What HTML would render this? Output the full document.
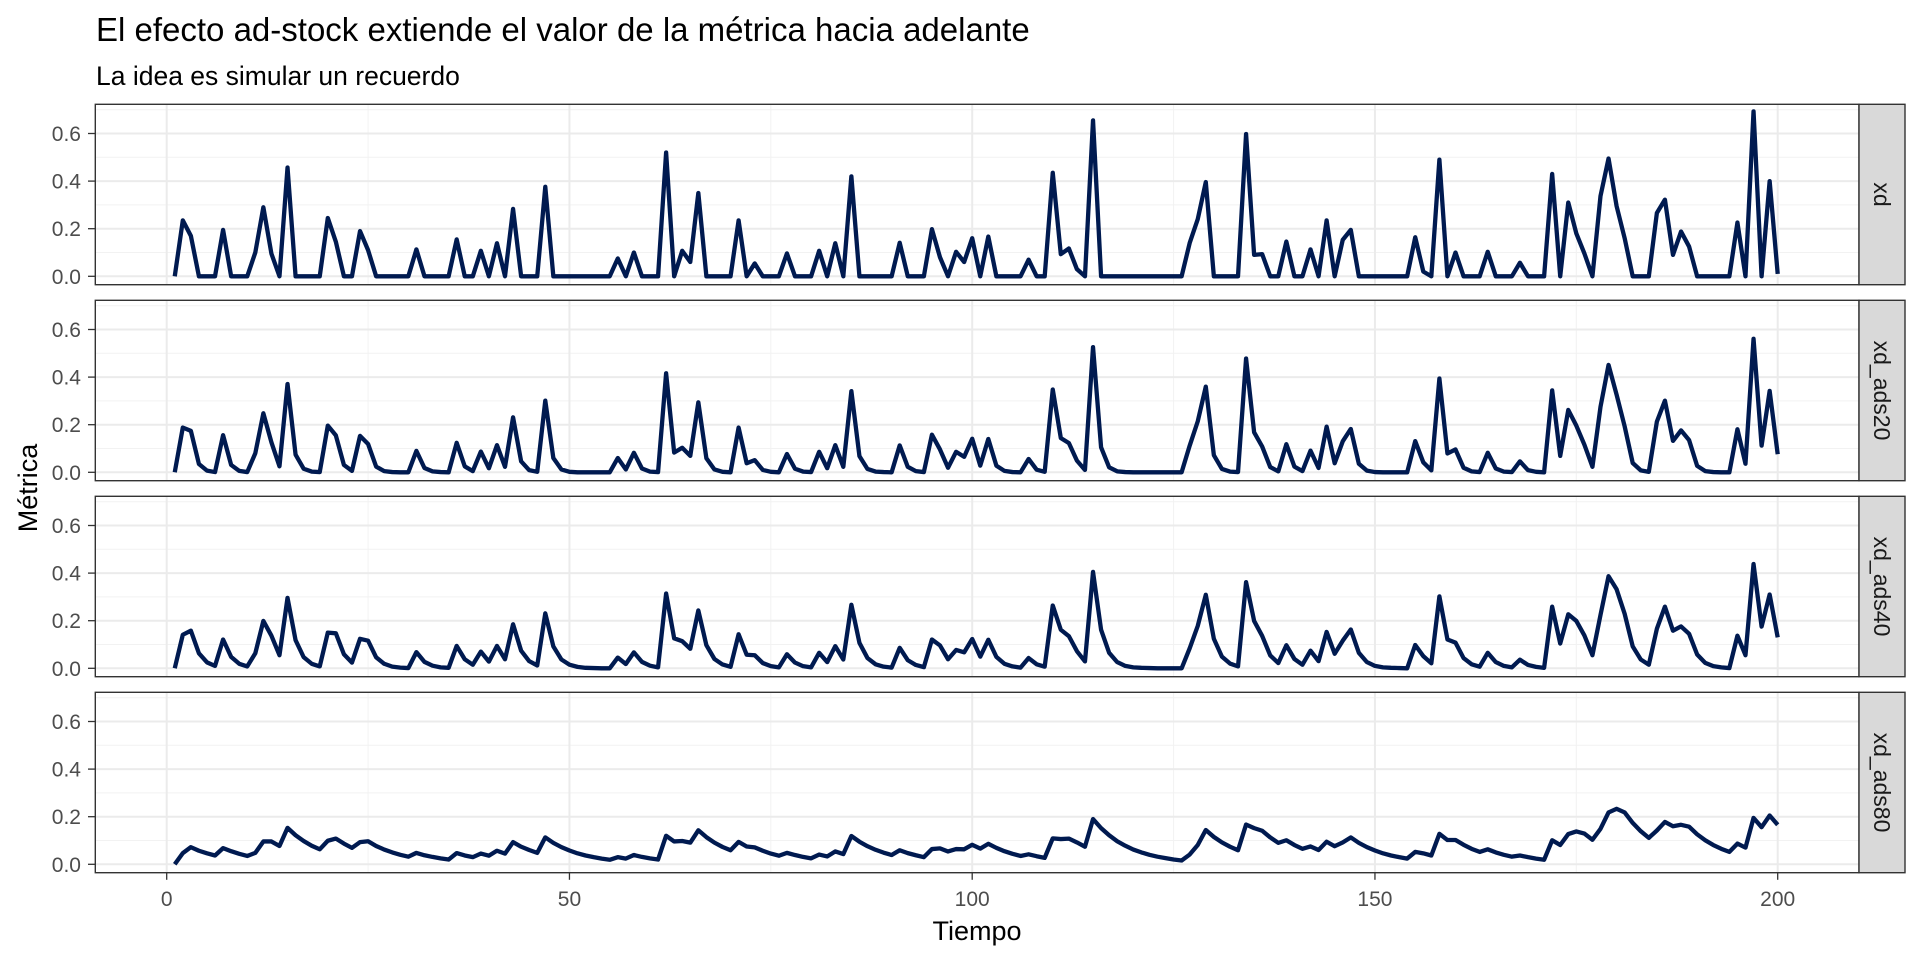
<!DOCTYPE html>
<html><head><meta charset="utf-8"><style>
html,body{margin:0;padding:0;background:#fff;}
svg{display:block;font-family:"Liberation Sans",Arial,sans-serif;}
.mn{stroke:#F2F2F2;stroke-width:1}
.mj{stroke:#EBEBEB;stroke-width:2}
.tk{stroke:#333;stroke-width:1.3}
.yl{font-size:21px;fill:#4D4D4D;text-anchor:end}
.xl{font-size:21px;fill:#4D4D4D;text-anchor:middle}
.ln{fill:none;stroke:#001A50;stroke-width:4.3;stroke-linejoin:round;vector-effect:non-scaling-stroke}
.st{font-size:23px;fill:#1A1A1A;text-anchor:middle}
</style></head><body>
<svg width="1920" height="960" xmlns="http://www.w3.org/2000/svg">
<rect x="0" y="0" width="1920" height="960" fill="#fff"/>
<text x="96" y="41" font-size="33" fill="#000">El efecto ad-stock extiende el valor de la métrica hacia adelante</text>
<text x="96" y="85" font-size="26.5" fill="#000">La idea es simular un recuerdo</text>
<defs>
<g id="grid">
<rect x="95.3" y="0" width="1763.7" height="180.4" fill="#fff"/>
<line class="mn" x1="95.3" x2="1859" y1="148.2" y2="148.2"/><line class="mn" x1="95.3" x2="1859" y1="100.6" y2="100.6"/><line class="mn" x1="95.3" x2="1859" y1="53" y2="53"/><line class="mn" x1="95.3" x2="1859" y1="5.4" y2="5.4"/>
<line class="mn" y1="0" y2="180.4" x1="368.1" x2="368.1"/><line class="mn" y1="0" y2="180.4" x1="770.8" x2="770.8"/><line class="mn" y1="0" y2="180.4" x1="1173.6" x2="1173.6"/><line class="mn" y1="0" y2="180.4" x1="1576.3" x2="1576.3"/>
<line class="mj" x1="95.3" x2="1859" y1="172" y2="172"/><line class="mj" x1="95.3" x2="1859" y1="124.4" y2="124.4"/><line class="mj" x1="95.3" x2="1859" y1="76.8" y2="76.8"/><line class="mj" x1="95.3" x2="1859" y1="29.2" y2="29.2"/>
<line class="mj" y1="0" y2="180.4" x1="166.7" x2="166.7"/><line class="mj" y1="0" y2="180.4" x1="569.45" x2="569.45"/><line class="mj" y1="0" y2="180.4" x1="972.2" x2="972.2"/><line class="mj" y1="0" y2="180.4" x1="1374.95" x2="1374.95"/><line class="mj" y1="0" y2="180.4" x1="1777.7" x2="1777.7"/>
<line class="tk" x1="88" x2="95.3" y1="172" y2="172"/><line class="tk" x1="88" x2="95.3" y1="124.4" y2="124.4"/><line class="tk" x1="88" x2="95.3" y1="76.8" y2="76.8"/><line class="tk" x1="88" x2="95.3" y1="29.2" y2="29.2"/>
<text class="yl" x="81" y="179.5">0.0</text><text class="yl" x="81" y="131.9">0.2</text><text class="yl" x="81" y="84.3">0.4</text><text class="yl" x="81" y="36.7">0.6</text>
</g>
<g id="frame">
<rect x="95.3" y="0" width="1763.7" height="180.4" fill="none" stroke="#333" stroke-width="1.4"/>
<rect x="1859" y="0" width="46" height="180.4" fill="#D9D9D9" stroke="#333" stroke-width="1.4"/>
</g>
</defs>

<g transform="translate(0,104.3)">
<use href="#grid"/>
<polyline class="ln" transform="translate(166.7,172) scale(8.055,-238)" points="1,0 2,.235 3,.17 4,0 5,0 6,0 7,.195 8,0 9,0 10,0 11,.10 12,.29 13,.095 14,0 15,.457 16,0 17,0 18,0 19,0 20,.245 21,.145 22,0 23,0 24,.19 25,.11 26,0 27,0 28,0 29,0 30,0 31,.113 32,0 33,0 34,0 35,0 36,.155 37,0 38,0 39,.107 40,0 41,.139 42,0 43,.283 44,0 45,0 46,0 47,.376 48,0 49,0 50,0 51,0 52,0 53,0 54,0 55,0 56,.075 57,0 58,.10 59,0 60,0 61,0 62,.52 63,0 64,.107 65,.06 66,.35 67,0 68,0 69,0 70,0 71,.235 72,0 73,.054 74,0 75,0 76,0 77,.096 78,0 79,0 80,0 81,.107 82,0 83,.139 84,0 85,.42 86,0 87,0 88,0 89,0 90,0 91,.141 92,0 93,0 94,0 95,.198 96,.08 97,0 98,.103 99,.06 100,.16 101,0 102,.167 103,0 104,0 105,0 106,0 107,.07 108,0 109,0 110,.435 111,.093 112,.117 113,.03 114,0 115,.655 116,0 117,0 118,0 119,0 120,0 121,0 122,0 123,0 124,0 125,0 126,0 127,.14 128,.24 129,.396 130,0 131,0 132,0 133,0 134,.598 135,.09 136,.093 137,0 138,0 139,.146 140,0 141,0 142,.113 143,0 144,.235 145,0 146,.153 147,.195 148,0 149,0 150,0 151,0 152,0 153,0 154,0 155,.164 156,.02 157,0 158,.49 159,0 160,.10 161,0 162,0 163,0 164,.103 165,0 166,0 167,0 168,.057 169,0 170,0 171,0 172,.43 173,0 174,.31 175,.18 176,.096 177,0 178,.337 179,.495 180,.295 181,.16 182,0 183,0 184,0 185,.266 186,.322 187,.09 188,.188 189,.125 190,0 191,0 192,0 193,0 194,0 195,.226 196,0 197,.693 198,0 199,.4 200,.01"/>
<use href="#frame"/>
<text class="st" transform="translate(1874,90.2) rotate(90)">xd</text>
</g>

<g transform="translate(0,300.3)">
<use href="#grid"/>
<polyline class="ln" transform="translate(166.7,172) scale(8.055,-238)" points="1,0 2,.188 3,.174 4,.035 5,.007 6,.001 7,.156 8,.031 9,.006 10,.001 11,.08 12,.248 13,.126 14,.025 15,.371 16,.074 17,.015 18,.003 19,.001 20,.196 21,.155 22,.031 23,.006 24,.153 25,.119 26,.024 27,.005 28,.001 29,0 30,0 31,.09 32,.018 33,.004 34,.001 35,0 36,.124 37,.025 38,.005 39,.087 40,.017 41,.114 42,.023 43,.231 44,.046 45,.009 46,.002 47,.301 48,.06 49,.012 50,.002 51,0 52,0 53,0 54,0 55,0 56,.06 57,.012 58,.082 59,.016 60,.003 61,.001 62,.416 63,.083 64,.103 65,.069 66,.294 67,.059 68,.012 69,.002 70,0 71,.188 72,.038 73,.051 74,.01 75,.002 76,0 77,.077 78,.015 79,.003 80,.001 81,.086 82,.017 83,.114 84,.023 85,.341 86,.068 87,.014 88,.003 89,.001 90,0 91,.113 92,.023 93,.005 94,.001 95,.158 96,.096 97,.019 98,.086 99,.065 100,.141 101,.028 102,.14 103,.028 104,.006 105,.001 106,0 107,.056 108,.011 109,.002 110,.348 111,.144 112,.123 113,.049 114,.01 115,.526 116,.105 117,.021 118,.004 119,.001 120,0 121,0 122,0 123,0 124,0 125,0 126,0 127,.112 128,.214 129,.36 130,.072 131,.014 132,.003 133,.001 134,.478 135,.168 136,.108 137,.022 138,.004 139,.118 140,.024 141,.005 142,.091 143,.018 144,.192 145,.038 146,.13 147,.182 148,.036 149,.007 150,.001 151,0 152,0 153,0 154,0 155,.131 156,.042 157,.008 158,.394 159,.079 160,.096 161,.019 162,.004 163,.001 164,.082 165,.016 166,.003 167,.001 168,.046 169,.009 170,.002 171,0 172,.344 173,.069 174,.262 175,.196 176,.116 177,.023 178,.275 179,.451 180,.326 181,.193 182,.039 183,.008 184,.002 185,.213 186,.301 187,.132 188,.176 189,.135 190,.027 191,.005 192,.001 193,0 194,0 195,.181 196,.036 197,.561 198,.112 199,.342 200,.076"/>
<use href="#frame"/>
<text class="st" transform="translate(1874,90.2) rotate(90)">xd_ads20</text>
</g>

<g transform="translate(0,496.3)">
<use href="#grid"/>
<polyline class="ln" transform="translate(166.7,172) scale(8.055,-238)" points="1,0 2,.141 3,.158 4,.063 5,.025 6,.01 7,.121 8,.048 9,.019 10,.008 11,.063 12,.199 13,.137 14,.055 15,.296 16,.118 17,.047 18,.019 19,.008 20,.15 21,.147 22,.059 23,.024 24,.124 25,.116 26,.046 27,.019 28,.007 29,.003 30,.001 31,.068 32,.027 33,.011 34,.004 35,.002 36,.094 37,.038 38,.015 39,.07 40,.028 41,.094 42,.038 43,.185 44,.074 45,.03 46,.012 47,.231 48,.092 49,.037 50,.015 51,.006 52,.002 53,.001 54,0 55,0 56,.045 57,.018 58,.067 59,.027 60,.011 61,.004 62,.314 63,.126 64,.114 65,.082 66,.243 67,.097 68,.039 69,.016 70,.006 71,.143 72,.057 73,.055 74,.022 75,.009 76,.004 77,.059 78,.024 79,.009 80,.004 81,.065 82,.026 83,.093 84,.037 85,.267 86,.107 87,.043 88,.017 89,.007 90,.003 91,.086 92,.034 93,.014 94,.005 95,.121 96,.096 97,.038 98,.077 99,.067 100,.123 101,.049 102,.12 103,.048 104,.019 105,.008 106,.003 107,.043 108,.017 109,.007 110,.264 111,.162 112,.135 113,.072 114,.029 115,.405 116,.162 117,.065 118,.026 119,.01 120,.004 121,.002 122,.001 123,0 124,0 125,0 126,0 127,.084 128,.178 129,.309 130,.124 131,.049 132,.02 133,.008 134,.362 135,.199 136,.136 137,.054 138,.022 139,.097 140,.039 141,.015 142,.074 143,.03 144,.153 145,.061 146,.116 147,.163 148,.065 149,.026 150,.01 151,.004 152,.002 153,.001 154,0 155,.098 156,.051 157,.021 158,.302 159,.121 160,.108 161,.043 162,.017 163,.007 164,.065 165,.026 166,.01 167,.004 168,.036 169,.014 170,.006 171,.002 172,.259 173,.104 174,.227 175,.199 176,.138 177,.055 178,.224 179,.387 180,.332 181,.229 182,.092 183,.037 184,.015 185,.166 186,.259 187,.158 188,.176 189,.145 190,.058 191,.023 192,.009 193,.004 194,.001 195,.137 196,.055 197,.438 198,.175 199,.31 200,.13"/>
<use href="#frame"/>
<text class="st" transform="translate(1874,90.2) rotate(90)">xd_ads40</text>
</g>

<g transform="translate(0,692.3)">
<use href="#grid"/>
<polyline class="ln" transform="translate(166.7,172) scale(8.055,-238)" points="1,0 2,.047 3,.072 4,.057 5,.046 6,.037 7,.068 8,.055 9,.044 10,.035 11,.048 12,.096 13,.096 14,.077 15,.153 16,.122 17,.098 18,.078 19,.063 20,.099 21,.108 22,.087 23,.069 24,.093 25,.097 26,.077 27,.062 28,.05 29,.04 30,.032 31,.048 32,.038 33,.031 34,.025 35,.02 36,.047 37,.037 38,.03 39,.045 40,.036 41,.057 42,.045 43,.093 44,.074 45,.06 46,.048 47,.113 48,.09 49,.072 50,.058 51,.046 52,.037 53,.03 54,.024 55,.019 56,.03 57,.024 58,.039 59,.031 60,.025 61,.02 62,.12 63,.096 64,.098 65,.091 66,.143 67,.114 68,.091 69,.073 70,.059 71,.094 72,.075 73,.071 74,.057 75,.045 76,.036 77,.048 78,.039 79,.031 80,.025 81,.041 82,.033 83,.054 84,.043 85,.119 86,.095 87,.076 88,.061 89,.049 90,.039 91,.059 92,.047 93,.038 94,.03 95,.064 96,.067 97,.054 98,.064 99,.063 100,.082 101,.066 102,.086 103,.069 104,.055 105,.044 106,.035 107,.042 108,.034 109,.027 110,.109 111,.106 112,.108 113,.092 114,.074 115,.19 116,.152 117,.122 118,.097 119,.078 120,.062 121,.05 122,.04 123,.032 124,.026 125,.02 126,.016 127,.041 128,.081 129,.144 130,.115 131,.092 132,.074 133,.059 134,.167 135,.152 136,.141 137,.113 138,.09 139,.101 140,.081 141,.065 142,.075 143,.06 144,.095 145,.076 146,.092 147,.113 148,.09 149,.072 150,.058 151,.046 152,.037 153,.03 154,.024 155,.052 156,.046 157,.037 158,.128 159,.102 160,.102 161,.082 162,.065 163,.052 164,.063 165,.05 166,.04 167,.032 168,.037 169,.03 170,.024 171,.019 172,.101 173,.081 174,.127 175,.138 176,.129 177,.103 178,.149 179,.218 180,.233 181,.218 182,.174 183,.139 184,.111 185,.142 186,.178 187,.16 188,.166 189,.158 190,.126 191,.101 192,.081 193,.065 194,.052 195,.087 196,.07 197,.195 198,.156 199,.205 200,.166"/>
<use href="#frame"/>
<text class="st" transform="translate(1874,90.2) rotate(90)">xd_ads80</text>
<line class="tk" y1="180.4" y2="187.5" x1="166.7" x2="166.7"/><line class="tk" y1="180.4" y2="187.5" x1="569.45" x2="569.45"/><line class="tk" y1="180.4" y2="187.5" x1="972.2" x2="972.2"/><line class="tk" y1="180.4" y2="187.5" x1="1374.95" x2="1374.95"/><line class="tk" y1="180.4" y2="187.5" x1="1777.7" x2="1777.7"/>
</g>

<text class="xl" x="166.7" y="906">0</text>
<text class="xl" x="569.45" y="906">50</text>
<text class="xl" x="972.2" y="906">100</text>
<text class="xl" x="1374.95" y="906">150</text>
<text class="xl" x="1777.7" y="906">200</text>
<text x="977" y="940" font-size="27" fill="#000" text-anchor="middle">Tiempo</text>
<text transform="translate(37,488) rotate(-90)" font-size="27" fill="#000" text-anchor="middle">Métrica</text>
</svg>
</body></html>
